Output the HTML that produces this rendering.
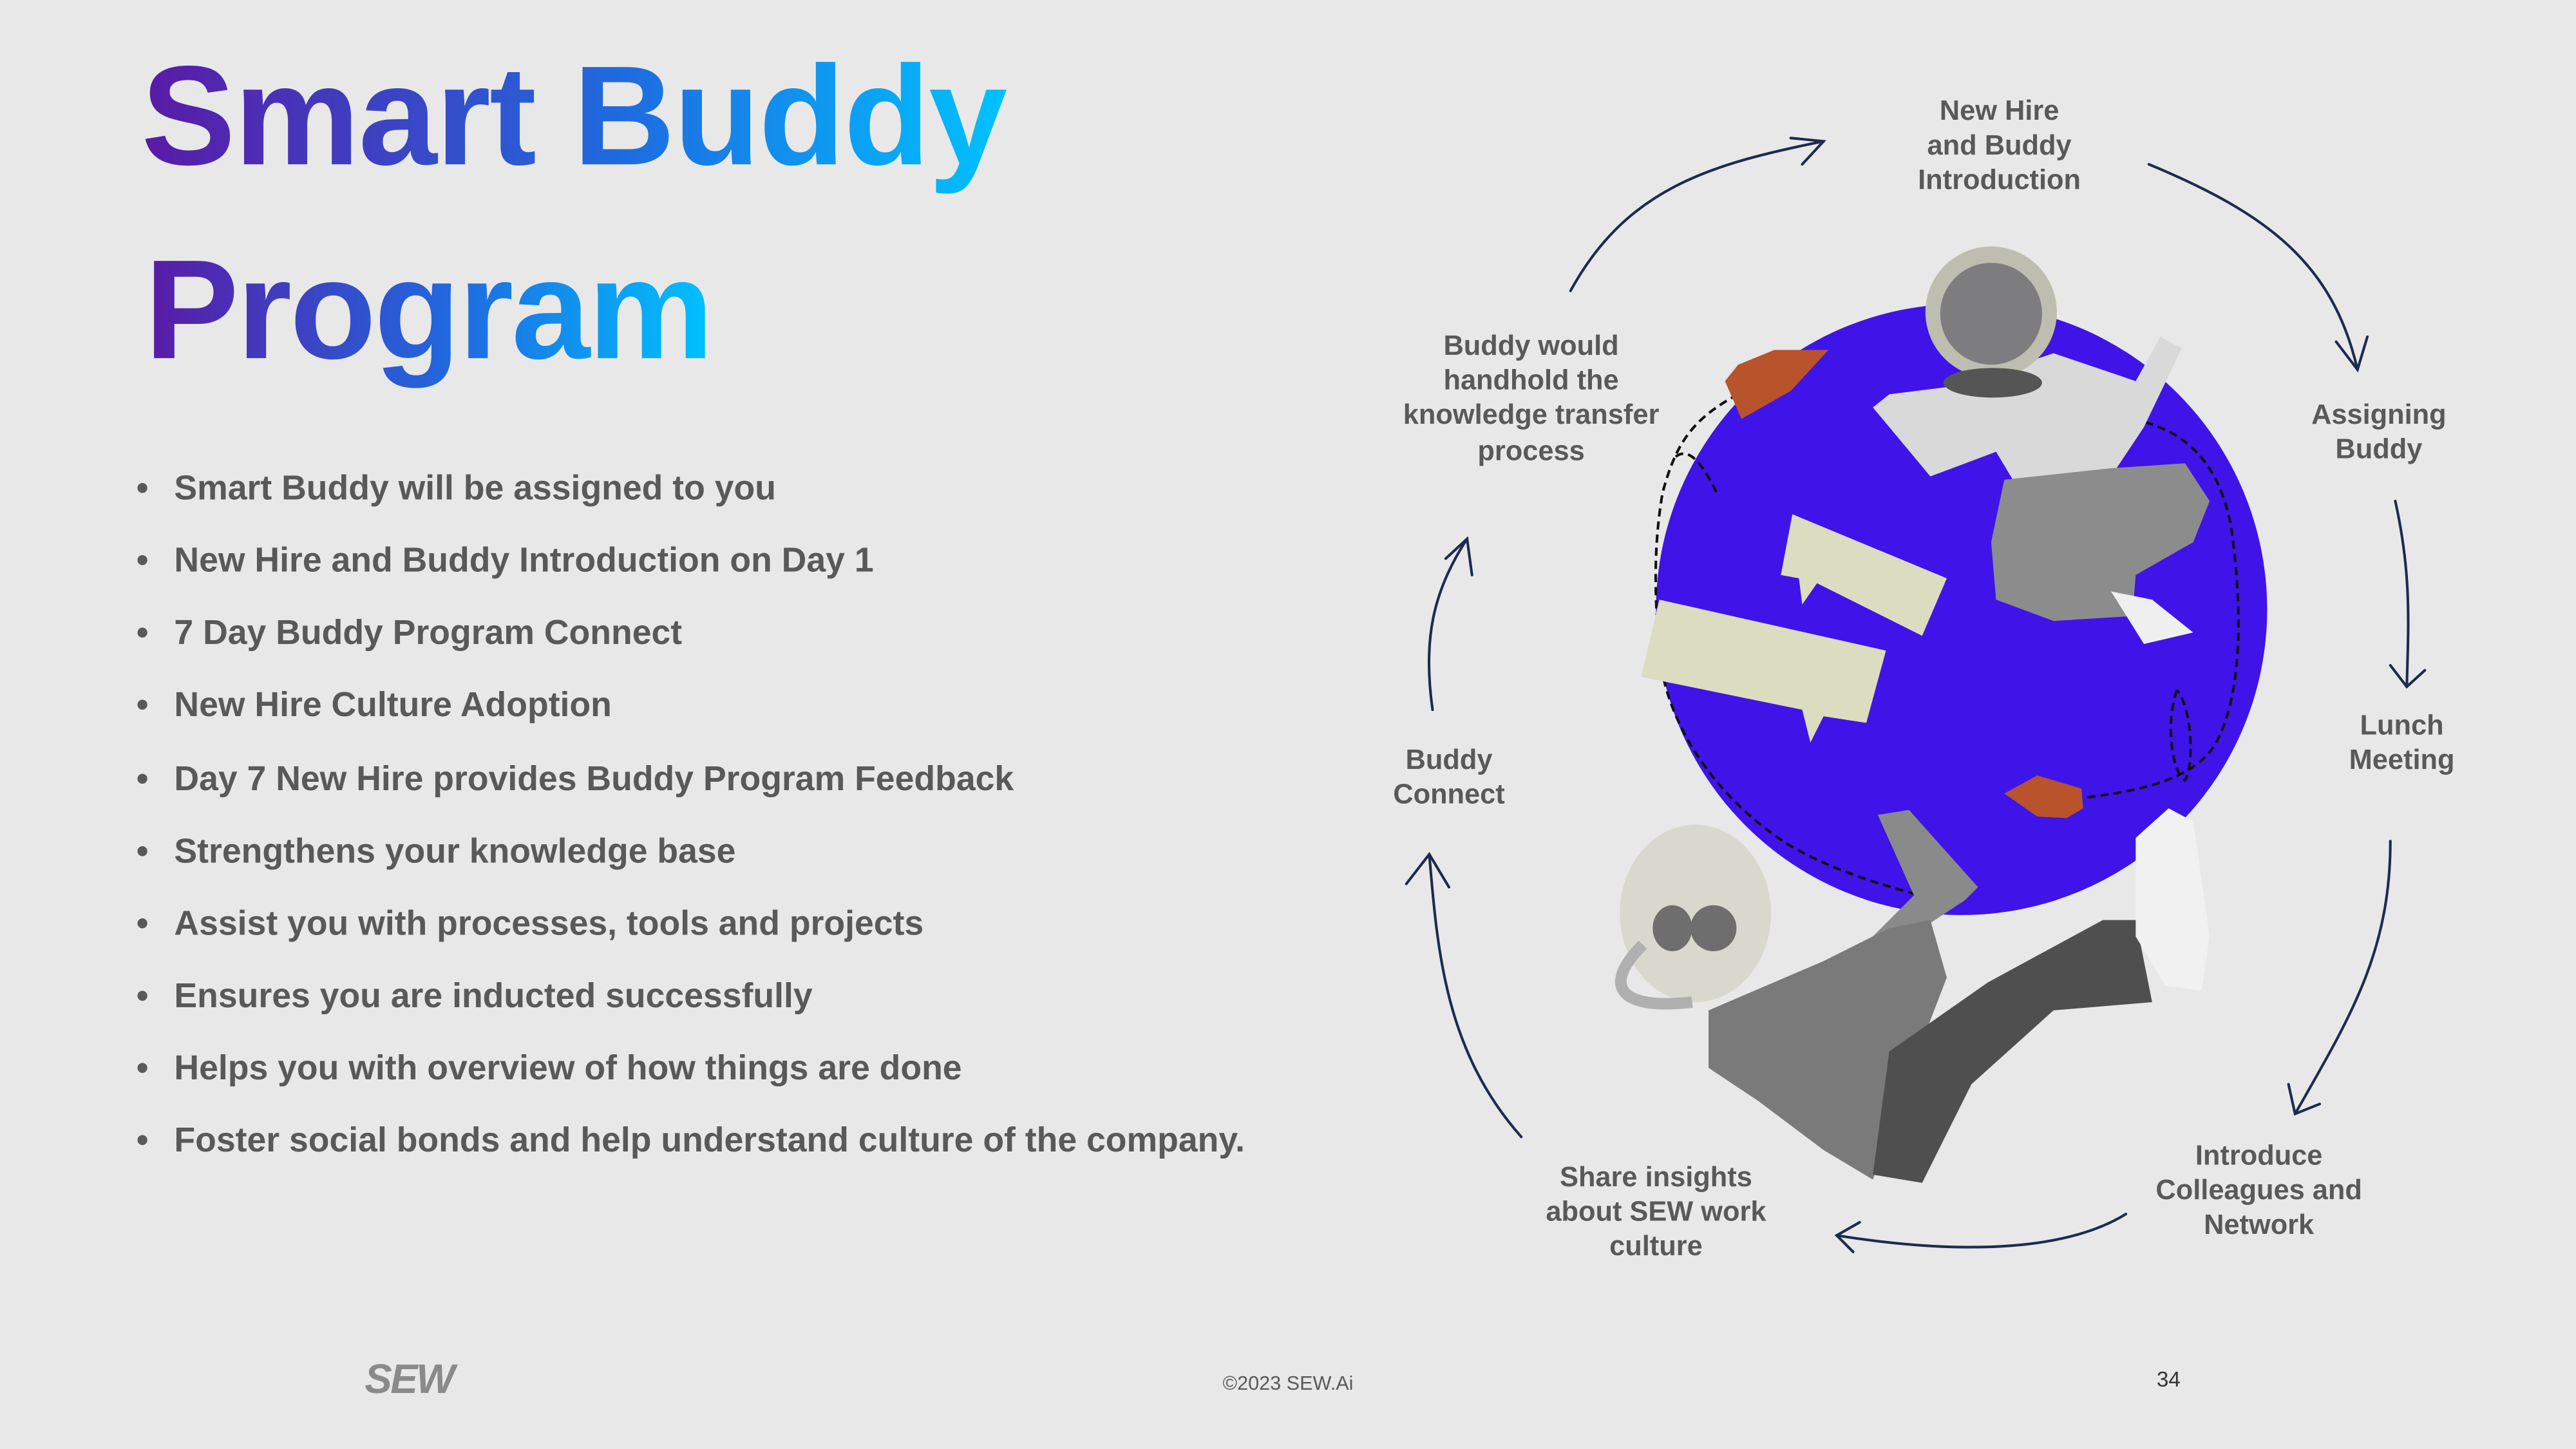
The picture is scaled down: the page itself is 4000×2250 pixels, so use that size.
<!DOCTYPE html>
<html><head><meta charset="utf-8"><style>
html,body{margin:0;padding:0;background:#e8e8e8;}
svg{display:block;}
text{font-family:"Liberation Sans",sans-serif;}
</style></head><body>
<svg width="4000" height="2250" viewBox="0 0 1568 882" xmlns="http://www.w3.org/2000/svg">
<defs>
<linearGradient id="g1" x1="0" y1="0" x2="1" y2="0"><stop offset="0" stop-color="#5a1aa6"/><stop offset="0.55" stop-color="#1f6ae0"/><stop offset="1" stop-color="#00c2ff"/></linearGradient>
<linearGradient id="g2" x1="0" y1="0" x2="1" y2="0"><stop offset="0" stop-color="#5a1aa6"/><stop offset="0.55" stop-color="#1f6ae0"/><stop offset="1" stop-color="#00c2ff"/></linearGradient>
</defs>
<rect width="1568" height="882" fill="#e8e8e8"/>
<text x="86" y="100" font-size="86" font-weight="bold" fill="url(#g1)" letter-spacing="-0.8">Smart Buddy</text>
<text x="88" y="218" font-size="86" font-weight="bold" fill="url(#g2)" letter-spacing="-1.2">Program</text>
<g font-size="21" font-weight="bold" fill="#595959">
<text x="83" y="304">•</text><text x="106" y="304">Smart Buddy will be assigned to you</text>
<text x="83" y="348">•</text><text x="106" y="348">New Hire and Buddy Introduction on Day 1</text>
<text x="83" y="392">•</text><text x="106" y="392">7 Day Buddy Program Connect</text>
<text x="83" y="436">•</text><text x="106" y="436">New Hire Culture Adoption</text>
<text x="83" y="481">•</text><text x="106" y="481">Day 7 New Hire provides Buddy Program Feedback</text>
<text x="83" y="525">•</text><text x="106" y="525">Strengthens your knowledge base</text>
<text x="83" y="569">•</text><text x="106" y="569">Assist you with processes, tools and projects</text>
<text x="83" y="613">•</text><text x="106" y="613">Ensures you are inducted successfully</text>
<text x="83" y="657">•</text><text x="106" y="657">Helps you with overview of how things are done</text>
<text x="83" y="701">•</text><text x="106" y="701">Foster social bonds and help understand culture of the company.</text>
</g>
<circle cx="1194" cy="371" r="186" fill="#3e14e8"/>
<g fill="none" stroke="#111" stroke-width="1.6" stroke-dasharray="5,3">
<path d="M1058,240 C1030,255 1020,270 1012,300 C1005,340 1008,380 1012,410 C1020,450 1050,490 1090,515 C1120,532 1150,540 1180,548"/>
<path d="M1020,278 C1030,270 1040,290 1045,300"/>
<path d="M1298,255 C1330,262 1350,280 1358,320 C1365,370 1365,420 1350,450 C1338,475 1300,482 1265,486"/>
<path d="M1325,420 C1318,440 1322,470 1330,475 C1336,465 1334,430 1325,420"/>
</g>
<polygon points="1058,222 1080,213 1113,213 1090,238 1060,255 1050,232" fill="#b8532c"/>
<polygon points="1220,483 1240,472 1267,480 1268,492 1258,498 1240,497" fill="#b8532c"/>
<polygon points="1091,313 1185,352 1170,387 1106,355 1097,368 1095,352 1084,350" fill="#dcdcc0"/>
<polygon points="1010,365 1148,396 1136,440 1110,436 1102,452 1097,432 999,412" fill="#dcdcc0"/>
<polygon points="1190,235 1250,215 1300,232 1315,205 1328,212 1305,260 1285,290 1230,300 1215,275 1175,290 1140,248 1150,240" fill="#d9d9d9"/>
<polygon points="1220,292 1285,285 1330,282 1345,305 1335,330 1300,350 1298,375 1250,378 1215,365 1212,330" fill="#8c8c8c"/>
<polygon points="1285,360 1310,365 1335,385 1305,392" fill="#efefef"/>
<circle cx="1212" cy="190" r="40" fill="#bdbdb0"/>
<circle cx="1212" cy="191" r="31" fill="#7d7d80"/>
<ellipse cx="1213" cy="233" rx="30" ry="9" fill="#555"/>
<polygon points="1143,496 1162,493 1204,540 1196,548 1140,585 1130,580 1165,545" fill="#8a8a8a"/>
<polygon points="1040,615 1110,585 1150,565 1175,560 1185,595 1160,660 1140,718 1110,700 1070,670 1040,650" fill="#7a7a7a"/>
<polygon points="1150,640 1210,598 1280,560 1300,560 1310,610 1250,615 1200,660 1170,720 1140,715" fill="#4f4f4f"/>
<polygon points="1300,510 1320,492 1335,500 1345,570 1340,603 1318,600 1300,570" fill="#f1f1f1"/>
<ellipse cx="1032" cy="556" rx="46" ry="54" fill="#d8d8ce"/>
<ellipse cx="1018" cy="565" rx="12" ry="14" fill="#6e6e6e"/>
<ellipse cx="1043" cy="565" rx="14" ry="14" fill="#6e6e6e"/>
<path d="M1000,575 C975,600 985,615 1030,610" fill="none" stroke="#b0b0b0" stroke-width="7"/>
<g fill="none" stroke="#1c2b4e" stroke-width="1.6" stroke-linecap="round">
<path d="M956,177 C990,115 1040,100 1110,86"/><path d="M1090,84 L1110,86 L1097,100"/>
<path d="M1308,100 C1380,130 1420,160 1435,225"/><path d="M1422,208 L1435,225 L1441,205"/>
<path d="M1458,305 C1468,350 1466,380 1465,418"/><path d="M1455,405 L1465,418 L1476,408"/>
<path d="M1455,512 C1455,580 1430,620 1397,678"/><path d="M1393,660 L1397,678 L1412,672"/>
<path d="M1294,739 C1260,760 1200,765 1118,752"/><path d="M1132,744 L1118,752 L1128,762"/>
<path d="M926,692 C880,640 875,580 870,520"/><path d="M856,538 L870,520 L882,540"/>
<path d="M872,432 C866,390 872,360 893,328"/><path d="M880,340 L893,328 L896,350"/>
</g>
<g font-size="17" font-weight="bold" fill="#595959" text-anchor="middle">
<text x="1217" y="73">New Hire</text><text x="1217" y="94">and Buddy</text><text x="1217" y="115">Introduction</text>
<text x="1448" y="258">Assigning</text><text x="1448" y="279">Buddy</text>
<text x="1462" y="447">Lunch</text><text x="1462" y="468">Meeting</text>
<text x="1375" y="709">Introduce</text><text x="1375" y="730">Colleagues and</text><text x="1375" y="751">Network</text>
<text x="1008" y="722">Share insights</text><text x="1008" y="743">about SEW work</text><text x="1008" y="764">culture</text>
<text x="882" y="468">Buddy</text><text x="882" y="489">Connect</text>
<text x="932" y="216">Buddy would</text><text x="932" y="237">handhold the</text><text x="932" y="258">knowledge transfer</text><text x="932" y="280">process</text>
</g>
<text x="222" y="848" font-size="25" font-weight="bold" fill="#8a8a8a" font-style="italic" letter-spacing="-1">SEW</text>
<text x="784" y="846" font-size="12" fill="#595959" text-anchor="middle">©2023 SEW.Ai</text>
<text x="1320" y="844" font-size="13" fill="#333" text-anchor="middle">34</text>
</svg>
</body></html>
